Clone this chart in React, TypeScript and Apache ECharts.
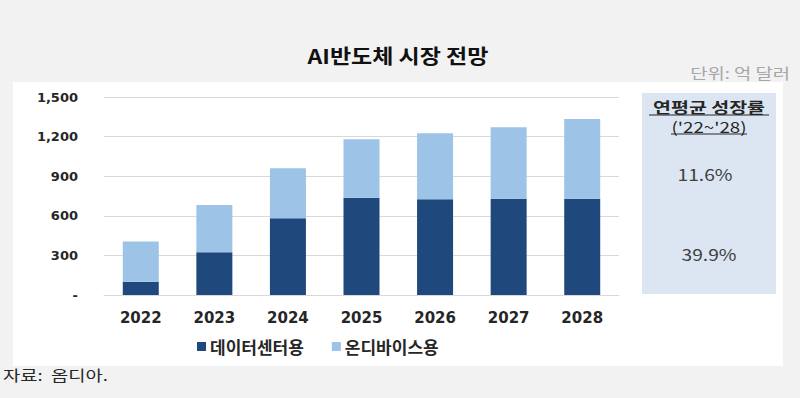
import React, { useEffect, useRef } from "react";
import * as echarts from "echarts";

const categories = ["2022", "2023", "2024", "2025", "2026", "2027", "2028"];
const dataCenter = [100, 323, 581, 737, 725, 730, 730];
const onDevice = [305, 359, 379, 442, 500, 540, 603];
const seriesNames = ["데이터센터용", "온디바이스용"];
const yTicks = { min: 0, max: 1500, interval: 300 };
const cagrTitle = ["연평균 성장률", "('22~'28)"];
const cagrValues = ["11.6%", "39.9%"];
const title = "AI반도체 시장 전망";
const unitText = "단위: 억 달러";
const sourceText = "자료:  옴디아.";

const KR = "'Noto Sans CJK KR', 'Noto Sans', sans-serif";

export default function App() {
  const ref = useRef<HTMLDivElement>(null);
  useEffect(() => {
    document.body.style.margin = "0";
    const chart = echarts.init(ref.current!, null, { renderer: "svg" });
    const sx = 1.25;
    chart.setOption({
      animation: false,
      backgroundColor: "#f2f2f2",
      textStyle: { fontFamily: KR },
      graphic: [
        { type: "rect", z: -10, shape: { x: 13, y: 82, width: 770, height: 284 }, style: { fill: "#ffffff" } },
        { type: "rect", z: -9, shape: { x: 642, y: 93, width: 134, height: 201 }, style: { fill: "#dce6f2" } },
        { type: "text", x: 398, y: 55, scaleX: 1.15, style: { text: title, font: `bold 20px ${KR}`, fill: "#111", textAlign: "center", textVerticalAlign: "middle" } },
        { type: "text", x: 790, y: 72, scaleX: sx, style: { text: unitText, font: `15px ${KR}`, fill: "#a6a6a6", textAlign: "right", textVerticalAlign: "middle" } },
        { type: "text", x: 3, y: 374, scaleX: sx, style: { text: sourceText, font: `15px ${KR}`, fill: "#262626", textAlign: "left", textVerticalAlign: "middle" } },
        { type: "text", x: 709, y: 107, scaleX: 1.3, style: { text: cagrTitle[0], font: `bold 15px ${KR}`, fill: "#262626", textAlign: "center", textVerticalAlign: "middle" } },
        { type: "line", shape: { x1: 649, y1: 115, x2: 769, y2: 115 }, style: { stroke: "#262626", lineWidth: 1.2 } },
        { type: "text", x: 709, y: 126, scaleX: 1.25, style: { text: cagrTitle[1], font: `15px ${KR}`, fill: "#262626", textAlign: "center", textVerticalAlign: "middle" } },
        { type: "line", shape: { x1: 671, y1: 134, x2: 747, y2: 134 }, style: { stroke: "#262626", lineWidth: 1.2 } },
        { type: "text", x: 705, y: 174, scaleX: 1.2, style: { text: cagrValues[0], font: `16px ${KR}`, fill: "#404040", textAlign: "center", textVerticalAlign: "middle" } },
        { type: "text", x: 709, y: 254, scaleX: 1.2, style: { text: cagrValues[1], font: `16px ${KR}`, fill: "#404040", textAlign: "center", textVerticalAlign: "middle" } },
      ],
      legend: {
        data: seriesNames,
        left: 192,
        top: 333,
        itemWidth: 9,
        itemHeight: 9,
        itemGap: 28,
        icon: "rect",
        textStyle: { fontFamily: KR, fontSize: 17, fontWeight: "bold", color: "#262626", padding: [0, 0, 0, -1] },
      },
      grid: { left: 104, right: 181, top: 97, bottom: 103, containLabel: false },
      xAxis: {
        type: "category",
        data: categories,
        axisLine: { show: true, lineStyle: { color: "#d9d9d9" } },
        axisTick: { show: false },
        axisLabel: { margin: 15, fontFamily: "'DejaVu Sans', sans-serif", fontSize: 15, fontWeight: "bold", color: "#262626" },
      },
      yAxis: {
        type: "value",
        min: yTicks.min,
        max: yTicks.max,
        interval: yTicks.interval,
        axisLine: { show: false },
        axisTick: { show: false },
        splitLine: { lineStyle: { color: "#d9d9d9" } },
        axisLabel: {
          margin: 26,
          fontFamily: "'DejaVu Sans', sans-serif",
          fontSize: 13,
          fontWeight: "bold",
          color: "#262626",
          formatter: (v: number) => (v === 0 ? "-" : v.toLocaleString("en-US")),
        },
      },
      series: [
        { name: seriesNames[0], type: "bar", stack: "t", data: dataCenter, barWidth: 36, itemStyle: { color: "#1f497d" } },
        { name: seriesNames[1], type: "bar", stack: "t", data: onDevice, barWidth: 36, itemStyle: { color: "#9dc3e6" } },
      ],
    });
    return () => chart.dispose();
  }, []);
  return <div ref={ref} style={{ position: "fixed", left: 0, top: 0, width: 800, height: 398 }} />;
}
